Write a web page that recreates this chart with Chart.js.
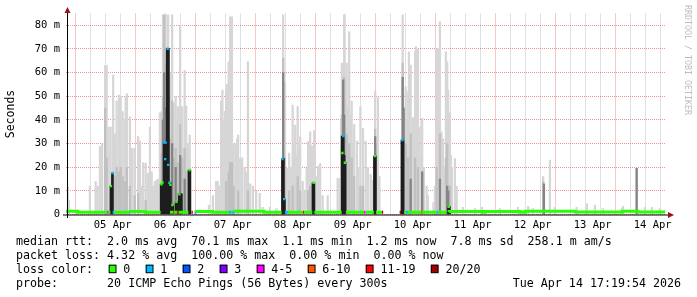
<!DOCTYPE html>
<html>
<head>
<meta charset="utf-8">
<script src="https://cdn.jsdelivr.net/npm/chart.js@4.4.1/dist/chart.umd.min.js"></script>
<style>
  html, body { margin: 0; padding: 0; background: #fff; }
  canvas { display: block; }
</style>
</head>
<body>
<canvas id="smoke" width="697" height="297"></canvas>
<script>
// x values are hours since 05 Apr 00:00, y values are milliseconds
const dayLabels = ['05 Apr', '06 Apr', '07 Apr', '08 Apr', '09 Apr', '10 Apr', '11 Apr', '12 Apr', '13 Apr', '14 Apr'];
const lossColors = ['#26ff00', '#00b8ff', '#0059ff', '#7e00ff', '#ff00ff', '#ff5500', '#ff0000', '#a10000'];
const lossLabels = ['0', '1', '2', '3', '4-5', '6-10', '11-19', '20/20'];

// light smoke (max ping per interval)
const lightTimes = [-5.9, -5.5, 2.9, 5.2, 6.0, 6.9, 7.8, 9.0, 9.6, 10.4, 11.2, 12.2, 12.9, 13.6, 14.5, 15.2, 16.0, 16.9, 17.2, 17.7,
  18.9, 19.8, 20.8, 22.2, 22.9, 23.6, 24.2, 25.2, 26.1, 26.9, 27.6, 28.1, 28.9, 29.6, 30.2, 30.9,
  31.6, 32.1, 32.6, 33.2, 33.7, 34.2, 34.8, 35.3, 35.8, 36.4, 37.2, 37.7, 38.1, 38.6, 39.0, 39.4, 39.8, 40.3, 40.8, 41.4, 42.1, 42.8,
  50.5, 52.1, 53.4, 54.0, 54.5, 55.4, 55.9, 56.4, 56.9, 57.4, 57.8, 58.4, 59.0, 59.7, 60.4, 61.2, 61.8, 62.2, 63.0, 63.8, 64.8, 65.5, 66.1, 67.0, 68.1, 69.4, 70.8, 72.0,
  74.9, 77.5, 80.2, 80.9, 81.7, 82.6, 83.3, 84.0, 84.5, 85.0, 85.5, 86.0, 86.5, 87.0, 88.0, 88.8, 89.6, 90.2, 91.0, 91.7, 92.6, 93.3, 94.2, 95.0, 96.0, 98.0, 102.0, 102.8,
  103.4, 103.7, 104.6, 105.1, 105.6, 106.1, 106.6, 107.1, 107.6, 108.1, 108.6, 109.7, 110.3, 111.1, 112.1, 113.2, 114.1, 115.2, 115.9, 117.0, 117.6, 118.1, 118.7,
  128.0, 128.8, 129.2, 129.7, 130.2, 130.5, 131.2, 131.7, 132.1, 132.6, 133.0, 133.3, 133.8, 134.1, 134.7, 135.2, 135.8, 136.5, 137.6, 138.1, 140.3, 140.9,
  141.6, 142.1, 142.5, 142.9, 143.5, 144.1, 144.7, 145.3, 145.8, 146.2, 146.9, 147.3, 147.7, 148.9, 149.6,
  152.1, 157.0, 159.7, 166.9, 174.1, 178.2, 180.1, 184.2, 186.9, 188.9, 197.6, 201.7, 204.9, 208.1, 215.6, 216.1, 221.6, 224.9, 227.7, 230.9];
const lightTops = [11.6, 6, 12, 14, 12, 28.7, 30, 63, 63, 37, 37, 59, 34, 48, 50.5, 50, 43.5, 40, 50, 51,
  41.3, 28, 28, 33, 31, 12, 22, 21.7, 17.5, 37, 18, 12, 14, 14.6, 15, 43,
  43.5, 84.4, 84.4, 84.4, 60, 84.4, 45, 60, 84.4, 47, 49.8, 40, 45.6, 35, 80, 30, 45.6, 28, 61, 46, 30, 33.6,
  4, 8, 14, 14, 12, 48, 52.6, 40, 43.6, 52.6, 55, 64.6, 83.6, 83.6, 30, 30, 32, 33.6, 23.7, 24, 20, 18, 64.6, 13, 12, 10, 9, 3,
  3, 2.5, 84.4, 56, 19.5, 26, 20, 46.3, 30, 37.8, 25, 45.6, 28, 33, 14, 10, 19.5, 30.8, 35, 29, 35.6, 16, 20.5, 21.5, 8, 8, 15.3, 15.3,
  40, 64, 84.4, 50, 64, 45, 77.3, 42, 48, 30, 38, 31, 20, 45.6, 36.4, 31, 20, 17, 14.5, 52.2, 30, 49.5, 16,
  84.4, 45, 54, 40, 52, 68.8, 63.2, 35, 41, 30, 68.8, 71, 40, 70, 37, 25, 40.7, 20, 12, 8, 5, 12,
  70.2, 70.3, 40, 81.5, 35, 32, 20, 68.8, 64.6, 52.6, 43, 25, 20, 23.7, 12,
  3, 2.5, 3, 2.5, 3, 3.5, 2.5, 16, 23, 3, 3, 4.5, 4, 2.5, 2.5, 3.5, 19.5, 3, 3, 2.5];

// medium smoke
const midTimes = [9.0, 9.6, 12.2, 12.9, 13.6, 14.5, 15.2, 16.0, 16.9, 17.7, 18.9, 20.8, 22.2, 25.2,
  31.6, 32.1, 32.6, 33.2, 33.7, 34.2, 34.8, 35.3, 35.8, 36.4, 37.2, 38.1, 39.0, 39.8, 40.8, 41.4, 42.8,
  57.4, 58.4, 59.0, 59.7, 60.4, 62.2, 66.1,
  80.2, 80.9, 82.6, 84.0, 86.0, 87.0, 90.2, 91.0, 92.6,
  103.7, 104.6, 105.6, 106.6, 107.6, 108.6, 111.1, 112.1, 117.0,
  128.0, 129.2, 130.2, 131.2, 133.0, 134.1, 135.8, 141.6, 142.9, 145.3, 145.8, 146.9, 184.2];
const midTops = [45, 24, 18, 16, 20, 18, 20, 16, 14, 20, 12, 8, 9, 6,
  26, 50, 84.4, 64, 38, 70, 28, 32, 48, 24, 28, 22, 38, 24, 28, 18, 15,
  14, 18, 22, 22, 12, 10, 10,
  66, 24, 10, 12, 16, 10, 10, 12, 10,
  42, 58, 34, 30, 24, 16, 12, 12, 36,
  64, 30, 24, 34, 24, 20, 18, 20, 34, 24, 30, 12, 14];

// dark smoke
const darkTimes = [32.1, 32.6, 33.2, 34.2, 35.8, 37.2, 39.0, 40.8, 80.2, 104.2, 104.6, 117.0, 128.0, 128.4, 131.2, 135.8, 142.9, 145.8, 146.2, 184.5, 221.6];
const darkTops = [40, 60, 45, 50, 30, 20, 25, 15, 60, 57, 42, 33, 58, 45, 15, 18, 15, 12, 10, 13, 19.5];

// black bars
const blackTimes = [11.3, 11.9, 31.4, 31.9, 32.6, 33.1, 33.8, 34.3, 34.8, 35.1, 35.8, 36.1, 37.4, 37.9, 38.6, 39.1, 39.5, 42.5, 42.9,
  79.9, 80.3, 80.7, 92.1, 92.5, 103.8, 104.2, 104.6, 105.0, 116.7, 117.1, 127.7, 128.1, 146.3, 146.7];
const blackTops = [12, 17.5, 12.8, 12.8, 30.4, 30.4, 70.3, 70.3, 13.4, 13.4, 4, 4, 5.5, 5.5, 8.7, 8.7, 8.7, 18.8, 18.8,
  23.7, 23.7, 6.5, 13.3, 13.3, 33.2, 33.2, 25, 22, 24.7, 24.7, 31.5, 31.5, 3.3, 3.3];

// median rtt baseline, one step per entry
const medStart = [-6.7, -2.0, -1.0, 9.8, 10.4, 12.0, 12.6, 18.5, 19.0, 25.0, 26.0, 34.9, 36.2, 36.7, 37.9, 38.4, 43.5, 44.7, 45.6, 52.0, 53.5,
  58.5, 59.4, 59.8, 60.8, 72.5, 75.0, 80.9, 82.1, 88.1, 88.6, 92.7, 105.3, 112.5, 113.2, 117.3, 119.7, 126.8, 128.6, 129.4, 130.1,
  135.4, 135.8, 141.6, 142.1, 146.6, 160.0, 161.0, 175.0, 177.0, 197.0, 216.0, 222.0, 224.0];
const medEnd = [-2.0, -1.0, 9.8, 10.4, 11.1, 12.6, 18.5, 19.0, 25.0, 26.0, 31.2, 36.2, 36.7, 37.9, 38.4, 42.3, 44.1, 45.6, 52.0, 53.5, 58.5,
  59.4, 59.8, 60.8, 72.5, 75.0, 79.6, 82.1, 88.1, 88.6, 91.8, 103.6, 112.5, 113.2, 116.5, 119.7, 120.2, 127.4, 129.4, 130.1, 135.4,
  135.8, 141.6, 142.1, 145.4, 160.0, 161.0, 175.0, 177.0, 197.0, 216.0, 222.0, 224.0, 233.0];
const medValue = [1.0, 1.4, 1.0, 1.0, 1.0, 1.0, 1.0, 1.0, 1.0, 1.3, 1.0, 1.0, 1.0, 1.0, 1.0, 1.0, 1.0, 1.0, 1.0, 1.3, 1.0,
  1.0, 1.0, 1.0, 1.0, 1.4, 1.0, 1.0, 1.0, 1.0, 1.0, 1.0, 1.0, 1.0, 1.0, 1.0, 1.0, 1.0, 1.0, 1.0, 1.0,
  1.0, 1.0, 1.0, 1.0, 1.0, 1.3, 1.0, 1.3, 1.0, 1.35, 1.05, 1.35, 1.05];
const medLoss = [0, 0, 0, 4, 0, 1, 0, 1, 0, 0, 0, 0, 5, 0, 6, 0, 6, 1, 0, 0, 0,
  1, 0, 1, 0, 0, 0, 1, 0, 6, 0, 0, 0, 4, 0, 0, 7, 7, 0, 1, 0,
  5, 0, 1, 0, 0, 0, 0, 0, 0, 0, 0, 0, 0];

// median values during the spikes
const dotTimes = [11.3, 11.9, 31.5, 31.9, 32.5, 33.0, 33.2, 34.0, 34.2, 34.7, 35.1, 35.9, 37.5, 38.7, 42.7,
  79.9, 80.6, 92.4, 103.9, 104.3, 104.9, 116.9, 127.9, 146.4];
const dotValues = [12, 17.5, 12.8, 13.5, 30.4, 23.4, 30.4, 70.1, 21, 13.4, 12.6, 4, 5.4, 8.5, 18.8,
  23.5, 6.5, 13.4, 26, 33.2, 21.9, 24.7, 31.5, 3.3];
const dotLoss = [0, 1, 0, 0, 1, 1, 1, 1, 1, 1, 0, 0, 0, 0, 0, 1, 1, 0, 0, 1, 0, 0, 1, 0];

const tickHours = [];
for (let h = -6; h <= 228; h += 6) tickHours.push(h);

function bars(times, tops) {
    return times.map((t, i) => ({ x: t, y: [0, tops[i]] }));
}

// median line with breaks where there is no data
const medPts = [];
const medPtLoss = [];
for (let i = 0; i < medStart.length; i++) {
    if (i > 0 && medStart[i] > medEnd[i - 1] + 0.01) {
        medPts.push({ x: medEnd[i - 1], y: medValue[i - 1] });
        medPtLoss.push(medLoss[i - 1]);
        medPts.push({ x: medEnd[i - 1], y: null });
        medPtLoss.push(0);
    }
    medPts.push({ x: medStart[i], y: medValue[i] });
    medPtLoss.push(medLoss[i]);
}
const last = medStart.length - 1;
medPts.push({ x: medEnd[last], y: medValue[last] });
medPtLoss.push(medLoss[last]);

const MONO = '"DejaVu Sans Mono", monospace';
const MAJOR = 'rgba(225,40,40,0.5)';
const MINOR = 'rgba(120,120,120,0.45)';

const rrdText = {
    id: 'rrdText',
    afterDatasetsDraw(chart) {
        const c = chart.ctx;
        c.save();
        // axes with arrows
        c.strokeStyle = '#000';
        c.lineWidth = 1;
        c.beginPath();
        c.moveTo(63, 215); c.lineTo(669, 215);
        c.moveTo(67.5, 218); c.lineTo(67.5, 12);
        c.stroke();
        c.fillStyle = '#a01010';
        c.beginPath();
        c.moveTo(668, 212); c.lineTo(674, 215); c.lineTo(668, 218); c.closePath(); c.fill();
        c.beginPath();
        c.moveTo(64.5, 13); c.lineTo(67.5, 7); c.lineTo(70.5, 13); c.closePath(); c.fill();
        c.restore();
    },
    afterDraw(chart) {
        const c = chart.ctx;
        c.save();
        c.fillStyle = '#000';
        c.font = '11.5px ' + MONO;
        c.textAlign = 'center';
        c.textBaseline = 'middle';
        c.translate(11, 114);
        c.rotate(-Math.PI / 2);
        c.fillText('Seconds', 0, 0);
        c.restore();

        c.save();
        c.fillStyle = '#bdbdbd';
        c.font = '8.3px ' + MONO;
        c.textAlign = 'left';
        c.textBaseline = 'middle';
        c.translate(687, 5);
        c.rotate(Math.PI / 2);
        c.fillText('RRDTOOL / TOBI OETIKER', 0, 0);
        c.restore();

        c.save();
        c.fillStyle = '#000';
        c.font = '11.65px ' + MONO;
        c.textBaseline = 'alphabetic';
        c.fillText('median rtt:  2.0 ms avg  70.1 ms max  1.1 ms min  1.2 ms now  7.8 ms sd  258.1 m am/s', 16, 244.7);
        c.fillText('packet loss: 4.32 % avg  100.00 % max  0.00 % min  0.00 % now', 16, 258.7);
        c.fillText('loss color:', 16, 272.7);
        c.fillText('probe:       20 ICMP Echo Pings (56 Bytes) every 300s', 16, 286.7);
        c.textAlign = 'right';
        c.fillText('Tue Apr 14 17:19:54 2026', 681, 286.7);
        c.textAlign = 'left';
        let x = 108.7;
        lossLabels.forEach((lab, i) => {
            c.fillStyle = lossColors[i];
            c.fillRect(x, 264.7, 7.3, 8);
            c.strokeStyle = '#000';
            c.lineWidth = 1;
            c.strokeRect(x + 0.5, 265.2, 6.8, 7.5);
            c.fillStyle = '#000';
            const tx = x + 14.6;
            c.fillText(lab, tx, 272.7);
            x = tx + c.measureText(lab).width + 15.4;
        });
        c.restore();
    }
};

const ctx = document.getElementById('smoke').getContext('2d');
const smokeChart = new Chart(ctx, {
    type: 'bar',
    data: {
        datasets: [
            { type: 'bar', data: bars(lightTimes, lightTops), backgroundColor: '#d6d6d6', barThickness: 1.6, grouped: false, order: 6 },
            { type: 'bar', data: bars(midTimes, midTops), backgroundColor: '#c0c0c0', barThickness: 1.6, grouped: false, order: 5 },
            { type: 'bar', data: bars(darkTimes, darkTops), backgroundColor: '#848484', barThickness: 1.6, grouped: false, order: 4 },
            { type: 'bar', data: bars(blackTimes, blackTops), backgroundColor: '#1e1e1e', barThickness: 2, grouped: false, order: 3 },
            {
                type: 'line', data: medPts, borderWidth: 3, pointRadius: 0, stepped: 'after', spanGaps: false,
                borderColor: lossColors[0], order: 2,
                segment: { borderColor: s => lossColors[medPtLoss[s.p0DataIndex]] }
            },
            {
                type: 'line', data: dotTimes.map((t, i) => ({ x: t, y: dotValues[i] })), showLine: false,
                pointStyle: 'rect', pointRadius: 1.7, pointBorderWidth: 0,
                pointBackgroundColor: dotLoss.map(l => lossColors[l]), order: 1
            }
        ]
    },
    options: {
        responsive: false,
        animation: false,
        devicePixelRatio: 1,
        events: [],
        layout: { padding: { left: 0, top: 13.5, right: 31, bottom: 62.5 } },
        plugins: { legend: { display: false }, tooltip: { enabled: false } },
        scales: {
            x: {
                type: 'linear',
                min: -6.67,
                max: 233.33,
                offset: false,
                afterBuildTicks: s => { s.ticks = tickHours.map(v => ({ value: v })); },
                afterFit: s => { s.height = 20; },
                grid: {
                    drawTicks: false,
                    color: g => (g.tick && g.tick.value % 24 === 0) ? MAJOR : MINOR
                },
                border: { display: false, dash: [1, 1] },
                ticks: {
                    autoSkip: false, maxRotation: 0, padding: 4, color: '#000',
                    font: { family: MONO, size: 10.5 },
                    callback: v => ((v - 12) % 24 === 0 && v >= 12) ? dayLabels[(v - 12) / 24] : ''
                }
            },
            y: {
                min: 0,
                max: 85,
                afterFit: s => { s.width = 66; },
                grid: {
                    drawTicks: false,
                    color: g => (g.tick && g.tick.value % 10 === 0) ? MAJOR : MINOR
                },
                border: { display: false, dash: [1, 1] },
                ticks: {
                    stepSize: 5, padding: 6, color: '#000',
                    font: { family: MONO, size: 10.5 },
                    callback: v => v % 10 !== 0 ? '' : (v === 0 ? '0' : v + ' m')
                }
            }
        }
    },
    plugins: [rrdText]
});
</script>
</body>
</html>
